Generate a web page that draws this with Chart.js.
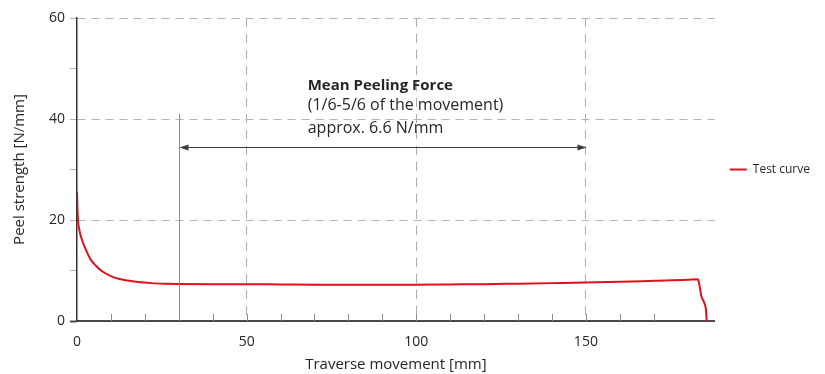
<!DOCTYPE html>
<html>
<head>
<meta charset="utf-8">
<script src="https://cdn.jsdelivr.net/npm/chart.js@4"></script>
<style>
  html, body { margin: 0; padding: 0; background: #fff; }
  #wrap { width: 825px; height: 374px; }
</style>
</head>
<body>
<div id="wrap"><canvas id="peelChart"></canvas></div>
<script>
// ================= DATA =================
const movement = [0, 0.1, 0.3, 0.7, 1.5, 2.5, 4, 5.5, 7.5, 10, 12.5, 15, 18, 22, 26, 30,
    40, 50, 60, 70, 80, 90, 100, 110, 120, 130, 140, 150, 160, 170, 180, 183,
    183.5, 184, 184.5, 185, 185.4, 185.6];
const peelStrength = [25.6, 23, 20, 18, 16, 14.3, 12.2, 11, 9.8, 8.9, 8.3, 8.0, 7.7, 7.5, 7.4, 7.35,
    7.3, 7.3, 7.25, 7.2, 7.2, 7.2, 7.2, 7.25, 7.3, 7.4, 7.5, 7.6, 7.75, 7.95, 8.15, 8.25,
    7.0, 5.0, 4.2, 3.4, 2.2, 0];

const xTickLabels = [0, 50, 100, 150];
const yTickLabels = [0, 20, 40, 60];

const meanRange = [30, 150];       // 1/6 - 5/6 of the movement
const meanArrowLevel = 34.5;
const meanMarkerTop = 41;
const noteLines = ["Mean Peeling Force", "(1/6-5/6 of the movement)", "approx. 6.6 N/mm"];
const noteAnchor = { x: 68, y: [46.5, 42.7, 38.2] };

const FONT = "'Open Sans', 'DejaVu Sans', sans-serif";

// ================= ANNOTATION + INNER TICKS =================
const annotationPlugin = {
    id: "meanAnnotation",
    afterDatasetsDraw(chart) {
        const ctx = chart.ctx;
        const xs = chart.scales.x;
        const ys = chart.scales.y;

        ctx.save();

        // inner minor ticks on the x axis
        ctx.strokeStyle = "#8a8a8a";
        ctx.lineWidth = 1;
        xs.ticks.forEach(t => {
            if (t.value % 10 !== 0 || t.value === 0) return;
            const px = Math.round(xs.getPixelForValue(t.value)) + 0.5;
            ctx.beginPath();
            ctx.moveTo(px, ys.bottom);
            ctx.lineTo(px, ys.bottom - 7);
            ctx.stroke();
        });

        // vertical marker at start of the range
        const x1 = Math.round(xs.getPixelForValue(meanRange[0])) + 0.5;
        const x2 = Math.round(xs.getPixelForValue(meanRange[1])) + 0.5;
        ctx.strokeStyle = "#8c8c8c";
        ctx.beginPath();
        ctx.moveTo(x1, ys.getPixelForValue(meanMarkerTop));
        ctx.lineTo(x1, ys.bottom);
        ctx.stroke();

        // double arrow
        const ay = Math.round(ys.getPixelForValue(meanArrowLevel)) + 0.5;
        ctx.strokeStyle = "#3a3a3a";
        ctx.fillStyle = "#3a3a3a";
        ctx.lineWidth = 1;
        ctx.beginPath();
        ctx.moveTo(x1 + 6, ay);
        ctx.lineTo(x2 - 6, ay);
        ctx.stroke();
        [[x1, 1], [x2, -1]].forEach(([x, dir]) => {
            ctx.beginPath();
            ctx.moveTo(x, ay);
            ctx.lineTo(x + dir * 9, ay - 3);
            ctx.lineTo(x + dir * 9, ay + 3);
            ctx.closePath();
            ctx.fill();
        });

        // text
        ctx.fillStyle = "#262626";
        ctx.textBaseline = "middle";
        ctx.textAlign = "left";
        const tx = xs.getPixelForValue(noteAnchor.x);
        noteLines.forEach((line, i) => {
            ctx.font = (i === 0 ? "bold 15px " : "16px ") + FONT;
            ctx.fillText(line, tx, ys.getPixelForValue(noteAnchor.y[i]));
        });

        ctx.restore();
    }
};

// ================= CHART =================
const ctx = document.getElementById("peelChart").getContext("2d");

new Chart(ctx, {
    type: "line",
    data: {
        datasets: [{
            label: "Test curve",
            data: movement.map((m, i) => ({ x: m, y: peelStrength[i] })),
            borderColor: "#e2101b",
            backgroundColor: "#e2101b",
            borderWidth: 2,
            pointRadius: 0,
            tension: 0.4,
            cubicInterpolationMode: "monotone"
        }]
    },
    options: {
        responsive: true,
        maintainAspectRatio: false,
        animation: false,
        layout: { padding: { top: 18, left: 11, right: 5, bottom: 0 } },
        plugins: {
            tooltip: { enabled: false },
            legend: {
                position: "right",
                fullSize: false,
                labels: {
                    usePointStyle: true,
                    pointStyle: "line",
                    pointStyleWidth: 17,
                    color: "#262626",
                    font: { family: FONT, size: 12 },
                    padding: 15
                }
            }
        },
        scales: {
            x: {
                type: "linear",
                min: 0,
                max: 188,
                ticks: {
                    stepSize: 10,
                    autoSkip: false,
                    maxRotation: 0,
                    padding: 14,
                    color: "#262626",
                    font: { family: FONT, size: 14, lineHeight: 1 },
                    callback: v => xTickLabels.includes(v) ? String(v) : ""
                },
                grid: {
                    color: c => (c.tick && xTickLabels.includes(c.tick.value) && c.tick.value > 0)
                        ? "#a9a9c9" : "rgba(0,0,0,0)",
                    lineWidth: 1,
                    drawTicks: false
                },
                border: { display: true, color: "#4a4a4a", width: 2, dash: [9, 7] },
                title: {
                    display: true,
                    text: "Traverse movement [mm]",
                    color: "#262626",
                    font: { family: FONT, size: 15 },
                    padding: { top: -7, bottom: 0 }
                }
            },
            y: {
                min: 0,
                max: 60,
                ticks: {
                    stepSize: 10,
                    autoSkip: false,
                    padding: 5,
                    color: "#262626",
                    font: { family: FONT, size: 14 },
                    callback: v => yTickLabels.includes(v) ? String(v) : ""
                },
                grid: {
                    color: c => (c.tick && c.tick.value > 0 && yTickLabels.includes(c.tick.value))
                        ? "#b4b4b4" : "rgba(0,0,0,0)",
                    lineWidth: 1,
                    drawTicks: true,
                    tickLength: 7,
                    tickColor: c => {
                        const v = c.tick ? c.tick.value : 0;
                        if (v === 0) return "#4a4a4a";
                        return yTickLabels.includes(v) ? "#b4b4b4" : "#b0b0d0";
                    },
                    tickBorderDash: c => (c.tick && c.tick.value > 0 && yTickLabels.includes(c.tick.value)) ? [8, 6] : [],
                    tickWidth: c => (c.tick && c.tick.value === 0) ? 2 : 1
                },
                border: { display: true, color: "#333", width: 1.5, dash: [8, 6] },
                title: {
                    display: true,
                    text: "Peel strength [N/mm]",
                    color: "#262626",
                    font: { family: FONT, size: 15 },
                    padding: { top: 0, bottom: 15 }
                }
            }
        }
    },
    plugins: [annotationPlugin]
});
</script>
</body>
</html>
